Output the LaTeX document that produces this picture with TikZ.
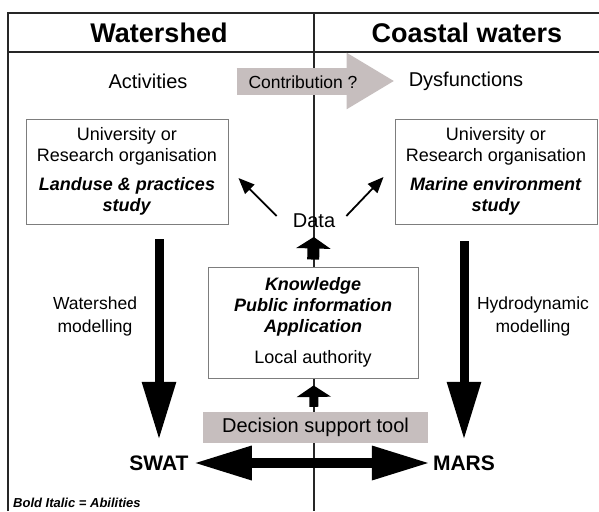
\documentclass[tikz,border=0pt]{standalone}
\usepackage{fontspec}
\setmainfont{Liberation Sans}
\usetikzlibrary{arrows.meta}
\definecolor{boxgray}{RGB}{198,190,190}
\definecolor{edgegray}{RGB}{125,125,125}
\begin{document}
\begin{tikzpicture}[x=1pt,y=-1pt,
  frame/.style={line width=1.6pt,black!85},
  midline/.style={line width=1.1pt,black!85},
  plain/.style={inner sep=0pt,align=center,font=\fontsize{18}{21}\selectfont},
  header/.style={inner sep=0pt,font=\fontsize{27}{30}\bfseries\selectfont},
  label20/.style={inner sep=0pt,font=\fontsize{20}{23}\selectfont},
  modlabel/.style={inner sep=0pt,align=center,font=\fontsize{17.5}{23}\selectfont},
  studybox/.style={draw=edgegray,line width=0.9pt,fill=white,inner sep=0pt,
     minimum width=202pt,minimum height=105pt,align=center,font=\fontsize{18}{21}\selectfont},
  model/.style={inner sep=0pt,font=\fontsize{21}{24}\bfseries\selectfont},
  bigdown/.style={line width=9pt,-{Triangle[length=58pt,width=32pt]}},
  bothway/.style={line width=9.5pt,{Triangle[length=58pt,width=32pt]}-{Triangle[length=58pt,width=32pt]}},
  smallup/.style={line width=#1,-{Triangle[length=11.5pt,width=34pt]}},
  thinarrow/.style={line width=1.8pt,-{Triangle[length=16pt,width=13pt]}},
  grayarrow/.style={draw=boxgray,line width=27pt,-{Triangle[length=48pt,width=53pt]}}
]
\useasboundingbox (0,0) rectangle (599,511);

% frame
\draw[frame] (8,511) -- (8,13) -- (599,13);
\draw[frame] (8,52) -- (599,52);
\draw[midline] (314,13) -- (314,511);

% headers
\node[header] (hw) at (159,33) {Watershed};
\node[header] (hc) at (467,33) {Coastal waters};

% activities / dysfunctions
\node[label20] (act) at (148,81) {Activities};
\node[label20] (dys) at (466,81) {Dysfunctions};
\draw[grayarrow,shorten <=49pt,shorten >=14pt] (act.east) -- (dys.west);
\node[inner sep=0pt,font=\fontsize{17.5}{20}\selectfont] (contrib) at (303,82) {Contribution ?};

% study boxes
\node[studybox] (lbox) at (127,171.5) {University or\\Research organisation\\[8pt]
  \textbf{\textit{Landuse \& practices}}\\\textbf{\textit{study}}};
\node[studybox] (rbox) at (496,171.5) {University or\\Research organisation\\[8pt]
  \textbf{\textit{Marine environment}}\\\textbf{\textit{study}}};

% data
\node[label20] (data) at (314,221) {Data};
\draw[thinarrow] ([xshift=-16pt,yshift=5pt]data.west) -- ([xshift=10pt,yshift=-6.5pt]lbox.east);
\draw[thinarrow] ([xshift=11pt,yshift=5pt]data.east) -- ([xshift=-11pt,yshift=-5.5pt]rbox.west);

% central box
\node[studybox,minimum width=210pt,minimum height=111pt] (cbox) at (313,322.5)
  {\textbf{\textit{Knowledge}}\\\textbf{\textit{Public information}}\\\textbf{\textit{Application}}\\[10pt]Local authority};
\draw[smallup=12pt,shorten <=7pt,shorten >=8.8pt] (cbox.north) -- (data.south);

% decision support tool
\node[fill=boxgray,inner sep=0pt,minimum width=225pt,minimum height=31pt,
      font=\fontsize{20}{23}\selectfont] (dst) at (315.5,427.5) {Decision support tool};
\draw[smallup=9pt,shorten <=5pt,shorten >=7pt] ([xshift=-1.5pt]dst.north) -- ([xshift=0.5pt]cbox.south);

% models
\node[model] (swat) at (159,463) {SWAT};
\node[model] (mars) at (464,463) {MARS};
\draw[bigdown,shorten <=15pt,shorten >=15.5pt] (lbox.south -| swat.north) -- (swat.north);
\draw[bigdown,shorten <=17pt,shorten >=15.5pt] (rbox.south -| mars.north) -- (mars.north);
\draw[bothway,shorten <=5pt,shorten >=3pt] (swat.east) -- (mars.west);

% modelling labels
\node[modlabel] (wm) at (95,316.5) {Watershed\\modelling};
\node[modlabel] (hm) at (533,316.5) {Hydrodynamic\\modelling};

% legend
\node[inner sep=0pt,anchor=west,font=\fontsize{13}{15}\bfseries\itshape\selectfont] (legend) at (13,503) {Bold Italic = Abilities};
\end{tikzpicture}
\end{document}
